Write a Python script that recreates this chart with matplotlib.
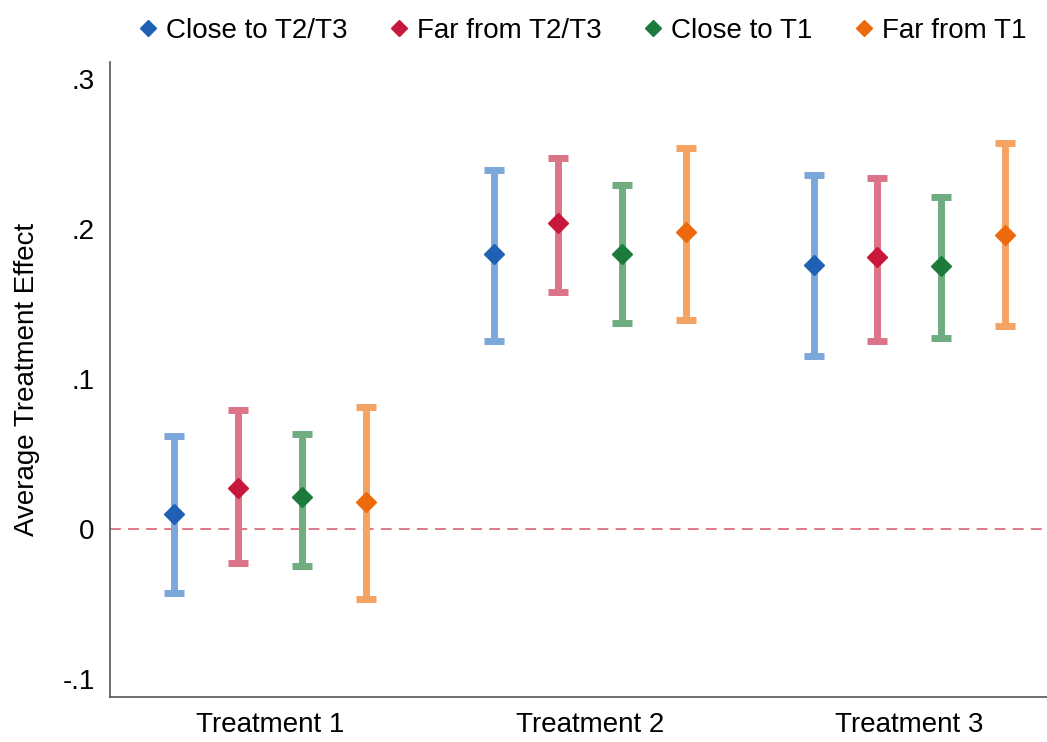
import numpy as np
import matplotlib.pyplot as plt
from matplotlib.lines import Line2D

plt.rcParams['font.family'] = ['Liberation Sans', 'DejaVu Sans']

# categories and groups
treatments = ['Treatment 1', 'Treatment 2', 'Treatment 3']
groups = ['Close to T2/T3', 'Far from T2/T3', 'Close to T1', 'Far from T1']

# point estimates per group (T1, T2, T3)
est_close_t23 = [0.010, 0.183, 0.176]
est_far_t23 = [0.027, 0.204, 0.181]
est_close_t1 = [0.021, 0.183, 0.175]
est_far_t1 = [0.018, 0.198, 0.196]

# confidence interval bounds
lo_close_t23 = [-0.043, 0.125, 0.115]
hi_close_t23 = [0.062, 0.239, 0.236]
lo_far_t23 = [-0.023, 0.158, 0.125]
hi_far_t23 = [0.079, 0.247, 0.234]
lo_close_t1 = [-0.025, 0.137, 0.127]
hi_close_t1 = [0.063, 0.229, 0.221]
lo_far_t1 = [-0.047, 0.139, 0.135]
hi_far_t1 = [0.081, 0.254, 0.257]

ests = [est_close_t23, est_far_t23, est_close_t1, est_far_t1]
los = [lo_close_t23, lo_far_t23, lo_close_t1, lo_far_t1]
his = [hi_close_t23, hi_far_t23, hi_close_t1, hi_far_t1]

point_colors = ['#1f5fb4', '#c8173a', '#1c7a3c', '#ec6a0c']
bar_colors = ['#7ba7da', '#dc7487', '#6fac80', '#f4a363']
offsets = [-0.3, -0.1, 0.1, 0.3]

fig = plt.figure(figsize=(10.47, 7.42), dpi=100)
ax = fig.add_axes([0.105, 0.061, 0.895, 0.855])

x = np.arange(1, len(treatments) + 1)
ax.axhline(0, color='#d9707f', lw=1.3, ls=(0, (6, 4)), zorder=1)

for i in range(len(groups)):
    xs = x + offsets[i]
    est = np.array(ests[i])
    yerr = [est - np.array(los[i]), np.array(his[i]) - est]
    eb = ax.errorbar(xs, est, yerr=yerr, fmt='none', ecolor=bar_colors[i],
                     elinewidth=5, capsize=7, capthick=5, zorder=2)
    for lc in eb[2]:
        lc.set_capstyle('round')
    ax.plot(xs, est, 'D', color=point_colors[i], ms=10, zorder=3)

ax.set_xlim(0.5, 3.43)
ax.set_ylim(-0.112, 0.311)
ax.set_xticks(x)
ax.set_xticklabels(treatments, fontsize=20)
ax.set_yticks([-0.1, 0, 0.1, 0.2, 0.3])
ax.set_yticklabels(['-.1', '0', '.1', '.2', '.3'], fontsize=20)
ax.tick_params(length=0, pad=11)
ax.set_ylabel('Average Treatment Effect', fontsize=20, labelpad=16)

for s in ['top', 'right']:
    ax.spines[s].set_visible(False)
for s in ['left', 'bottom']:
    ax.spines[s].set_color('#555555')
    ax.spines[s].set_linewidth(1.2)

handles = [Line2D([], [], ls='none', marker='D', color=c, ms=8) for c in point_colors]
fig.legend(handles, groups, loc='upper center', bbox_to_anchor=(0.552, 1.01),
           ncol=4, frameon=False, fontsize=20, handletextpad=0.0,
           columnspacing=1.2, handlelength=1.3)

fig.savefig('out.png', dpi=100)
